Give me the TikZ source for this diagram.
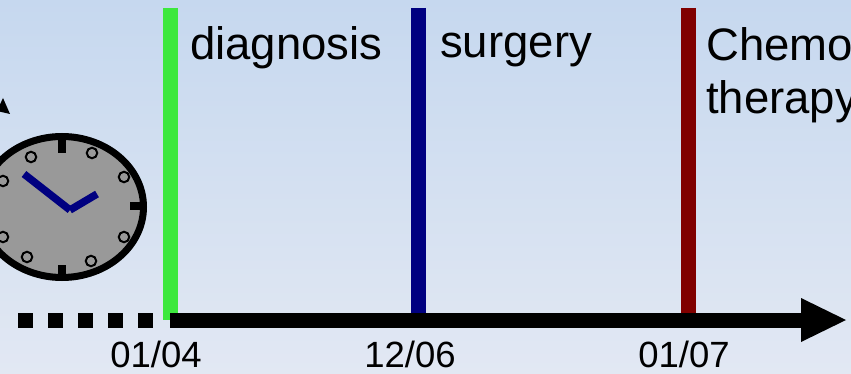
\documentclass[tikz,border=0pt]{standalone}
\usepackage{fontspec}
\setmainfont{Liberation Sans}
\definecolor{bgtop}{HTML}{C6D8EF}
\definecolor{bgbot}{HTML}{E2E8F3}
\definecolor{evgreen}{HTML}{3DE83D}
\definecolor{evblue}{HTML}{000080}
\definecolor{evred}{HTML}{800000}
\definecolor{clockface}{HTML}{999999}
\tikzset{
  bigtxt/.style={anchor=base west,inner sep=0pt,font=\fontsize{45.5}{50}\selectfont,text=black},
  datetxt/.style={anchor=base,inner sep=0pt,font=\fontsize{36.5}{40}\selectfont,text=black},
  evbar/.style={line width=15pt},
  tickmark/.style={line width=8pt,black},
  hand/.style={line width=7.5pt,evblue},
  hourdot/.style={circle,draw=black,line width=2pt,fill=clockface,minimum size=10.5pt,inner sep=0pt},
}
\begin{document}
\begin{tikzpicture}[x=1pt,y=-1pt]
\useasboundingbox (0,0) rectangle (851,374);
\clip (0,0) rectangle (851,374);
\shade[top color=bgtop,bottom color=bgbot] (0,0) rectangle (851,374);
% event bars
\coordinate (gt) at (170.5,8);  \coordinate (gb) at (170.5,320);
\coordinate (bt) at (418.5,8);  \coordinate (bb) at (418.5,320);
\coordinate (rt) at (688,8);    \coordinate (rb) at (688,320);
\draw[evbar,evgreen] (gt) -- (gb);
\draw[evbar,evblue] (bt) -- (bb);
\draw[evbar,evred] (rt) -- (rb);
% time axis
\coordinate (d0) at (18,320);
\coordinate (d1) at (153,320);
\coordinate (a0) at (170,320);
\coordinate (a1) at (804,320);
\coordinate (tipA) at (801,298);
\coordinate (tipB) at (846,320);
\coordinate (tipC) at (801,342);
\draw[line width=15pt,dash pattern=on 15pt off 15pt] (d0) -- (d1);
\draw[line width=15pt] (a0) -- (a1);
\fill (tipA) -- (tipB) -- (tipC) -- cycle;
% clock
\fill[clockface,draw=black,line width=7pt] (62,207) ellipse [x radius=81.5,y radius=70.5];
\draw[tickmark] (62,140) -- (62,153);
\draw[tickmark] (62,265) -- (62,280);
\draw[tickmark] (130,206) -- (144,206);
\node[hourdot] (h1) at (92,153) {};
\node[hourdot] (h2) at (124,177) {};
\node[hourdot] (h3) at (124,237) {};
\node[hourdot] (h4) at (91,261) {};
\node[hourdot] (h5) at (27,257) {};
\node[hourdot] (h6) at (3,237) {};
\node[hourdot] (h7) at (3,181) {};
\node[hourdot] (h8) at (31,157) {};
\coordinate (pivot) at (70,210);
\coordinate (minute) at (24,174);
\coordinate (hour) at (97,194);
\draw[hand] (minute) -- (pivot);
\draw[hand] (pivot) -- (hour);
\fill (3,98) -- (10,114) -- (-3,111) -- cycle;
% labels
\node[bigtxt] (diag) at (190,60) {diagnosis};
\node[bigtxt] (surg) at (440,58) {surgery};
\node[bigtxt] (chemo) at (706,61) {Chemo};
\node[bigtxt] (ther) at (706,114) {therapy};
\node[datetxt] (date1) at (156,367) {01/04};
\node[datetxt] (date2) at (410,367) {12/06};
\node[datetxt] (date3) at (684,367) {01/07};
\end{tikzpicture}
\end{document}
